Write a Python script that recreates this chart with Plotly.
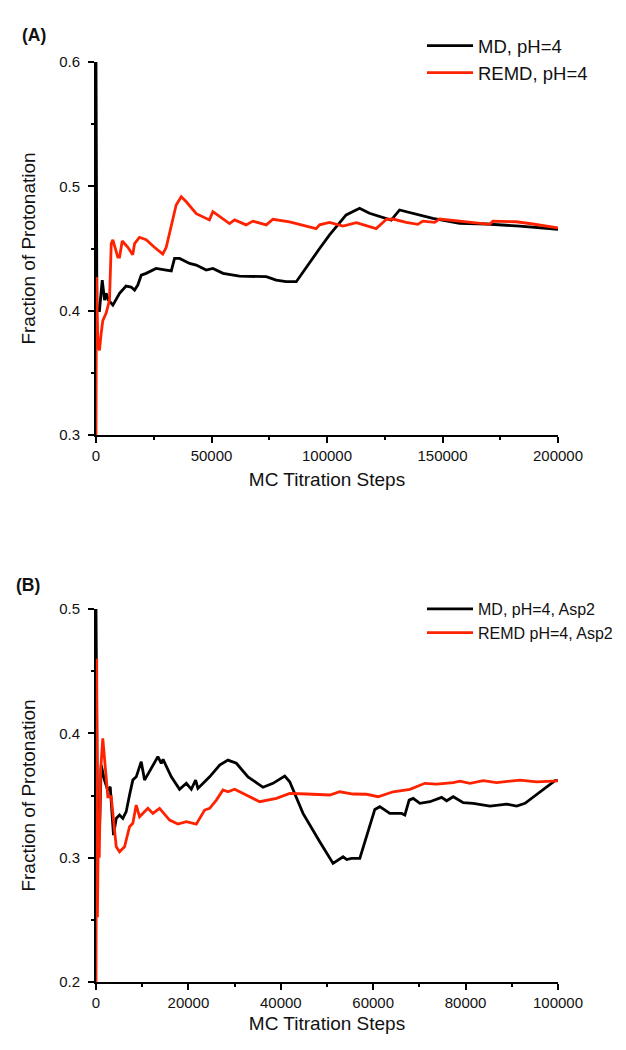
import plotly.graph_objects as go

# ---------------- Panel A data ----------------
md_a_steps = [0, 150, 400, 1500, 2700, 3700, 4400, 5200, 7300, 10200, 13000, 15200, 16700,
              18100, 19600, 21700, 26000, 30400, 32600, 34000, 36200, 40500, 43400, 47700,
              50600, 55000, 62100, 73700, 78000, 82300, 86700, 96800, 101100, 108300, 114100,
              118400, 124900, 127800, 131400, 138600, 145800, 157400, 169000, 183400, 197800, 200000]
md_a_frac = [0.600, 0.445, 0.400, 0.400, 0.4246, 0.4085, 0.414, 0.409, 0.4045, 0.414, 0.4198, 0.419, 0.4166,
             0.4206, 0.4286, 0.430, 0.434, 0.4327, 0.432, 0.442, 0.442, 0.438, 0.4367, 0.4327,
             0.434, 0.430, 0.4278, 0.4273, 0.4246, 0.4233, 0.4233, 0.450, 0.461, 0.477, 0.4823,
             0.4783, 0.4743, 0.4729, 0.481, 0.4777, 0.4743, 0.4703, 0.4697, 0.468, 0.4656, 0.4655]

remd_a_steps = [0, 200, 800, 1500, 2250, 2950, 4400, 5850, 6600, 7300, 9450, 10200, 11350, 13800,
                15900, 16700, 18800, 21700, 25300, 28900, 30400, 33300, 34700, 36900, 39100, 43400,
                49100, 50600, 53500, 57800, 60000, 65000, 67900, 73700, 76600, 83800, 95300, 96800,
                101100, 106900, 112700, 121300, 125700, 128500, 134300, 139300, 141500, 146600,
                148700, 157400, 166100, 170400, 171800, 181900, 189100, 200000]
remd_a_frac = [0.300, 0.427, 0.375, 0.368, 0.382, 0.392, 0.398, 0.4085, 0.454, 0.457, 0.443, 0.443, 0.456, 0.451,
               0.445, 0.454, 0.459, 0.457, 0.451, 0.4455, 0.451, 0.473, 0.485, 0.4917, 0.4876, 0.478,
               0.473, 0.4796, 0.4755, 0.470, 0.473, 0.469, 0.472, 0.469, 0.4735, 0.4715, 0.466, 0.469,
               0.471, 0.468, 0.4707, 0.466, 0.4735, 0.4737, 0.471, 0.4694, 0.472, 0.471,
               0.4737, 0.472, 0.4703, 0.4694, 0.472, 0.4715, 0.4697, 0.4665]

# ---------------- Panel B data ----------------
md_b_steps = [0, 300, 760, 1130, 1840, 2560, 3080, 3790, 4380, 5090, 5810, 6540, 7260, 7970, 8710,
              9790, 10510, 11960, 13390, 14130, 14520, 16300, 18090, 19550, 20630, 21560, 22060,
              24600, 26770, 28560, 30380, 32900, 36150, 38310, 40850, 41930, 44810, 48430, 51310,
              53480, 54280, 55300, 57100, 60350, 61430, 63600, 66140, 66850, 67780, 68650, 70100,
              72280, 74800, 75890, 77320, 79490, 81650, 85270, 88890, 91060, 92860, 99360, 100000]
md_b_frac = [0.500, 0.340, 0.322, 0.3745, 0.3624, 0.354, 0.357, 0.3182, 0.3316, 0.3343, 0.3316, 0.337, 0.3504, 0.3624, 0.365,
             0.3772, 0.3624, 0.3718, 0.3812, 0.3759, 0.379, 0.365, 0.355, 0.3598, 0.355, 0.3624, 0.3557,
             0.365, 0.3745, 0.3785, 0.3759, 0.365, 0.3566, 0.3598, 0.3656, 0.361, 0.3356, 0.3128, 0.2954,
             0.3007, 0.2985, 0.2994, 0.2994, 0.3388, 0.341, 0.3356, 0.3356, 0.3343, 0.3463, 0.3477, 0.3437,
             0.345, 0.3485, 0.3458, 0.349, 0.3442, 0.3437, 0.3415, 0.3431, 0.3415, 0.3437, 0.3619, 0.362]

remd_b_steps = [0, 150, 300, 500, 700, 1000, 1470, 2210, 2560, 3290, 4380, 5090, 6180, 7260, 7970,
                8710, 9430, 11230, 12310, 13760, 15930, 17730, 19550, 21710, 23510, 24600, 26050,
                27480, 28560, 30010, 32550, 35430, 39050, 41930, 45550, 50600, 52770, 55650, 58550,
                61070, 64320, 67940, 71190, 73720, 77320, 78770, 80940, 83820, 86720, 91770, 95390, 100000]
remd_b_frac = [0.200, 0.460, 0.252, 0.320, 0.300, 0.370, 0.396, 0.368, 0.349, 0.349, 0.3088, 0.3047, 0.3088, 0.3249, 0.3276,
               0.3423, 0.3329, 0.3397, 0.3356, 0.3397, 0.3302, 0.327, 0.3289, 0.327, 0.3383, 0.3397, 0.3463,
               0.3544, 0.353, 0.355, 0.3504, 0.345, 0.3477, 0.3517, 0.3512, 0.3504, 0.353, 0.3512, 0.351,
               0.349, 0.353, 0.355, 0.3598, 0.3592, 0.3603, 0.3616, 0.3598, 0.3619, 0.3603, 0.3624, 0.361, 0.3618]

legend_a = ["MD, pH=4", "REMD, pH=4"]
legend_b = ["MD, pH=4, Asp2", "REMD pH=4, Asp2"]

BLACK = "#000000"
RED = "#ff2200"
FONT = "Liberation Sans, Arial, sans-serif"
LW = 2.8

fig = go.Figure()
fig.add_trace(go.Scatter(x=md_a_steps, y=md_a_frac, mode="lines", name=legend_a[0],
                         line=dict(color=BLACK, width=LW), xaxis="x", yaxis="y", legend="legend"))
fig.add_trace(go.Scatter(x=remd_a_steps, y=remd_a_frac, mode="lines", name=legend_a[1],
                         line=dict(color=RED, width=LW), xaxis="x", yaxis="y", legend="legend"))
fig.add_trace(go.Scatter(x=md_b_steps, y=md_b_frac, mode="lines", name=legend_b[0],
                         line=dict(color=BLACK, width=LW), xaxis="x2", yaxis="y2", legend="legend2"))
fig.add_trace(go.Scatter(x=remd_b_steps, y=remd_b_frac, mode="lines", name=legend_b[1],
                         line=dict(color=RED, width=LW), xaxis="x2", yaxis="y2", legend="legend2"))

# page is offset by the default 8px body margin
OFF = 8
W, H = 626 - 2 * OFF, 1050 - 2 * OFF
PL, PR, PT, PB = 96, 558, 62, 982          # plot box in page pixels
ML, MR, MT, MB = PL - OFF, W - (PR - OFF), PT - OFF, H - (PB - OFF)
PW = W - ML - MR
PH = H - MT - MB


def py(p):
    return (PB - p) / PH


def px(p):
    return (p - PL) / PW


axis_common = dict(showline=True, linecolor=BLACK, linewidth=2, showgrid=False, zeroline=False,
                   ticks="outside", ticklen=6, tickwidth=2, tickcolor=BLACK, automargin=False,
                   tickfont=dict(family=FONT, size=15, color="#111111"),
                   title_font=dict(family=FONT, size=19, color="#111111"))

xa = dict(axis_common, range=[0, 200000], dtick=50000, tick0=0, tickformat="d",
          minor=dict(ticks="outside", ticklen=3, tickwidth=2, tickcolor=BLACK, dtick=25000),
          anchor="y", domain=[0, 1], title=dict(text="MC Titration Steps", standoff=10))
ya = dict(axis_common, range=[0.3, 0.6], dtick=0.1, tick0=0.3, tickformat=".1f", ticklabelstandoff=5,
          minor=dict(ticks="outside", ticklen=3, tickwidth=2, tickcolor=BLACK, dtick=0.05),
          anchor="x", domain=[py(435), 1.0], title=dict(text="Fraction of Protonation", standoff=18))
xb = dict(axis_common, range=[0, 100000], dtick=20000, tick0=0, tickformat="d",
          minor=dict(ticks="outside", ticklen=3, tickwidth=2, tickcolor=BLACK, dtick=10000),
          anchor="y2", domain=[0, 1], title=dict(text="MC Titration Steps", standoff=7))
yb = dict(axis_common, range=[0.2, 0.5], dtick=0.1, tick0=0.2, tickformat=".1f", ticklabelstandoff=5,
          minor=dict(ticks="outside", ticklen=3, tickwidth=2, tickcolor=BLACK, dtick=0.05),
          anchor="x2", domain=[0, py(609)], title=dict(text="Fraction of Protonation", standoff=18))

leg_common = dict(bgcolor="rgba(0,0,0,0)", borderwidth=0, xanchor="left", yanchor="top",
                  itemwidth=46, tracegroupgap=0)

fig.update_layout(
    width=W, height=H,
    margin=dict(l=ML, r=MR, t=MT, b=MB, pad=0, autoexpand=False),
    paper_bgcolor="white", plot_bgcolor="white",
    xaxis=xa, yaxis=ya, xaxis2=xb, yaxis2=yb,
    showlegend=True,
    legend=dict(leg_common, font=dict(family=FONT, size=18.5, color="#111111"),
                x=px(422), y=py(27)),
    legend2=dict(leg_common, font=dict(family=FONT, size=16, color="#111111"),
                 x=px(422), y=py(592)),
    annotations=[
        dict(text="<b>(A)</b>", xref="paper", yref="paper", x=px(20), y=py(35),
             xanchor="left", yanchor="middle", showarrow=False,
             font=dict(family=FONT, size=17.5, color="#111111")),
        dict(text="<b>(B)</b>", xref="paper", yref="paper", x=px(14), y=py(585),
             xanchor="left", yanchor="middle", showarrow=False,
             font=dict(family=FONT, size=17.5, color="#111111")),
    ],
)

fig.write_html("out.html")
